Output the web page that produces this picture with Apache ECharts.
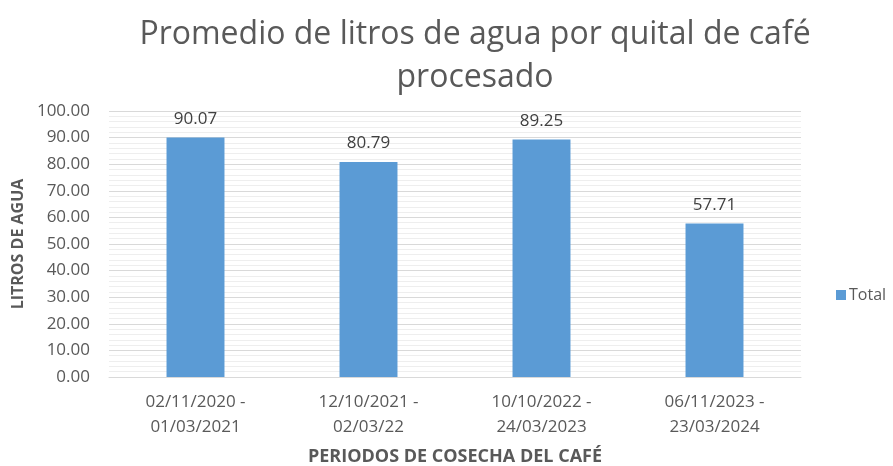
<!DOCTYPE html>
<html>
<head>
<meta charset="utf-8">
<script src="https://cdn.jsdelivr.net/npm/echarts@6/dist/echarts.min.js"></script>
<style>
  html, body { margin: 0; padding: 0; background: #fff; }
  #chart { width: 893px; height: 466px; }
</style>
</head>
<body>
<div id="chart"></div>
<script>
var periods = ['02/11/2020 -\n01/03/2021', '12/10/2021 -\n02/03/22', '10/10/2022 -\n24/03/2023', '06/11/2023 -\n23/03/2024'];
var totals = [90.07, 80.79, 89.25, 57.71];
var yMin = 0, yMax = 100, yStep = 10;

var myChart = echarts.init(document.getElementById('chart'));
var font = '"Open Sans", "Noto Sans", sans-serif';

var option = {
    animation: false,
    textStyle: {fontFamily: font},
    title: {
        text: 'Promedio de litros de agua por quital de café\nprocesado',
        left: 470,
        textAlign: 'center',
        top: 8,
        textStyle: {
            fontFamily: font,
            fontSize: 32,
            fontWeight: 'normal',
            color: '#595959',
            lineHeight: 43
        }
    },
    legend: {
        data: ['Total'],
        orient: 'vertical',
        left: 831,
        top: 282,
        itemWidth: 10,
        itemHeight: 10,
        itemGap: 4,
        icon: 'rect',
        textStyle: {color: '#595959', fontSize: 16, fontFamily: font, padding: [0, 0, 0, -2]}
    },
    grid: {left: 109, right: 92, top: 111, bottom: 89, outerBoundsMode: 'none', containLabel: false},
    xAxis: {
        type: 'category',
        data: periods,
        name: 'PERIODOS DE COSECHA DEL CAFÉ',
        nameLocation: 'middle',
        nameGap: 71,
        nameTextStyle: {color: '#595959', fontSize: 18, fontWeight: 'bold', fontFamily: font},
        axisLine: {lineStyle: {color: '#d9d9d9', width: 1}},
        axisTick: {show: false},
        axisLabel: {color: '#595959', fontSize: 17, lineHeight: 25, margin: 13, fontFamily: font}
    },
    yAxis: {
        type: 'value',
        min: yMin,
        max: yMax,
        interval: yStep,
        name: 'LITROS DE AGUA',
        nameLocation: 'middle',
        nameGap: 80,
        nameTextStyle: {color: '#595959', fontSize: 16, fontWeight: 'bold', fontFamily: font},
        axisLine: {show: false},
        axisTick: {show: false},
        axisLabel: {
            color: '#595959', fontSize: 17, margin: 19, fontFamily: font,
            formatter: function (v) { return v.toFixed(2); }
        },
        splitLine: {lineStyle: {color: '#d9d9d9', width: 1}},
        minorTick: {show: false, splitNumber: 5},
        minorSplitLine: {show: true, lineStyle: {color: '#eeeeee', width: 1}}
    },
    series: [{
        name: 'Total',
        type: 'bar',
        data: totals,
        barWidth: '33.5%',
        itemStyle: {color: '#5b9bd5'},
        label: {
            show: true,
            position: 'top',
            distance: 10,
            color: '#404040',
            fontSize: 17,
            fontFamily: font,
            formatter: function (p) { return p.value.toFixed(2); }
        }
    }]
};
myChart.setOption(option);
</script>
</body>
</html>
